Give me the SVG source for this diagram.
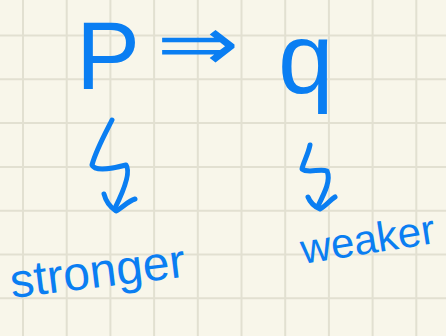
<svg xmlns="http://www.w3.org/2000/svg" width="446" height="336" viewBox="0 0 446 336">
<style>
.grid{stroke:#e2e0d1;stroke-width:2;fill:none}
.ink{fill:#0a7ef2;font-family:"Liberation Sans","DejaVu Sans",sans-serif}
.sym{fill:#0a7ef2;font-family:"DejaVu Sans","Liberation Sans",sans-serif}
.stroke{stroke:#0a7ef2;stroke-width:5;fill:none;stroke-linecap:round;stroke-linejoin:round}
</style>
<rect x="0" y="0" width="446" height="336" fill="#f8f6ea"/>
<g id="grid" class="grid">
<path d="M23 0V336M66.7 0V336M110.4 0V336M154.1 0V336M197.8 0V336M241.5 0V336M285.2 0V336M328.9 0V336M372.6 0V336M416.3 0V336"/>
<path d="M0 35.5H446M0 79.3H446M0 123.1H446M0 166.9H446M0 210.7H446M0 254.5H446M0 298.3H446"/>
</g>
<g id="P"><text class="ink" x="76" y="89" font-size="96">P</text></g>
<g id="implies"><text class="sym" x="198" y="70" font-size="76" text-anchor="middle" transform="translate(198 0) scale(1.3 1) translate(-198 0)">⇒</text></g>
<g id="q"><text class="ink" x="278" y="93" font-size="100">q</text></g>
<g id="stronger"><text class="ink" x="12" y="298" font-size="48" transform="rotate(-7 12 298)">stronger</text></g>
<g id="weaker"><text class="ink" x="303" y="264" font-size="42" transform="rotate(-9 303 264)">weaker</text></g>
<g id="connectors" class="stroke">
<path d="M112 120 C106 132 96 150 92 165 C95 172 115 168 126 165 C131 172 124 190 115 208"/>
<path d="M104 194 C106 202 110 207 116 211 C122 208 128 201 135 199"/>
<path d="M310 145 C308 155 303 163 302 169 C308 174 320 168 327 171 C331 180 325 192 318 206"/>
<path d="M308 197 C310 202 313 206 320 209 C326 206 330 200 335 197"/>
</g>
</svg>
